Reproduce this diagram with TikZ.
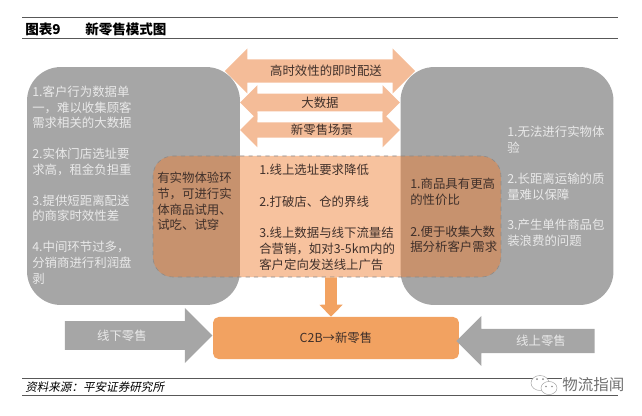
\documentclass[tikz,border=0pt]{standalone}
\usepackage{fontspec}
\setmainfont{Noto Sans CJK SC}
\newfontfamily\slantcjk[FakeSlant=0.2]{Noto Sans CJK SC}
\usetikzlibrary{shapes.arrows,arrows.meta}
\definecolor{peach}{HTML}{F4BC98}
\definecolor{overlap}{HTML}{ED7D31}
\definecolor{boxorange}{HTML}{F2A261}
\definecolor{panelgray}{HTML}{A6A6A6}
\definecolor{softwhite}{HTML}{E9E9E9}
\definecolor{inkdark}{HTML}{40302A}
\definecolor{rulegray}{HTML}{585858}
\tikzset{
	panel/.style={fill=panelgray, rounded corners=24pt, minimum width=151pt, minimum height=168.7pt, inner sep=0pt},
	bartext/.style={double arrow, double arrow tip angle=90, double arrow head indent=0pt, fill=peach, text=inkdark, inner xsep=0pt, font=\fontsize{8.8}{11.2}\selectfont},
	sidearrow/.style={single arrow, single arrow tip angle=90, single arrow head indent=0pt, fill=panelgray, text=softwhite, inner xsep=0pt, font=\fontsize{8.8}{11.2}\selectfont},
	greytext/.style={anchor=west, align=left, text=softwhite, inner sep=0pt, font=\fontsize{8.8}{11.2}\selectfont},
	darktext/.style={anchor=west, align=left, text=inkdark, inner sep=0pt, font=\fontsize{8.8}{11.2}\selectfont},
	rulethick/.style={draw=rulegray, line width=0.6pt}
}
\begin{document}
\begin{tikzpicture}[x=0.709pt,y=-0.709pt]
	\useasboundingbox (0,0) rectangle (642,415);

	% header and footer
	\draw [rulethick] (22,17) -- (618,17);
	\draw [rulethick] (22,38) -- (618,38);
	\draw [rulethick] (22,378) -- (618,378);
	\draw [rulethick] (22,395) -- (618,395);
	\node (figno) [anchor=west, inner sep=0pt, font=\fontsize{9.6}{11}\selectfont\bfseries] at (25,29) {图表9};
	\node (figtitle) [anchor=west, inner sep=0pt, font=\fontsize{9.6}{11}\selectfont\bfseries] at (85,29) {新零售模式图};
	\node (source) [anchor=west, inner sep=0pt, font=\fontsize{8.2}{10}\slantcjk] at (25,387) {资料来源：平安证券研究所};

	% three bars behind the panels
	\node (delivery) [bartext, inner ysep=3.2pt, minimum height=135pt, minimum width=32pt, double arrow head extend=7pt] at (320,71) {\hspace{8.5pt}高时效性的即时配送};
	\node (bigdata) [bartext, inner ysep=1pt, minimum height=113.4pt, minimum width=24.5pt, double arrow head extend=5pt] at (320,102.5) {大数据};
	\node (scene) [bartext, inner ysep=0pt, minimum height=113.4pt, minimum width=24.5pt, double arrow head extend=5.5pt] at (320,130) {\hspace{2.8pt}新零售场景};

	% panels
	\node (offline) [panel] at (133.5,186) {};
	\node (online) [panel] at (507,186) {};
	\node (shared) [fill=overlap, fill opacity=0.47, draw=rulegray!70, line width=0.4pt, dashed, rounded corners=14pt, minimum width=246.7pt, minimum height=85.8pt, inner sep=0pt] at (327,216.5) {};

	% panel texts
	\node (offlinetext) [greytext] at (32,185) {1.客户行为数据单\\一，难以收集顾客\\需求相关的大数据\\[10.6pt]2.实体门店选址要\\求高，租金负担重\\[10.6pt]3.提供短距离配送\\的商家时效性差\\[10.6pt]4.中间环节过多，\\分销商进行利润盘\\剥};
	\node (onlinetext) [greytext] at (507,186.5) {1.无法进行实物体\\验\\[10.6pt]2.长距离运输的质\\量难以保障\\[10.6pt]3.产生单件商品包\\装浪费的问题};
	\node (lefttext) [darktext] at (157,201.5) {有实物体验环\\节，可进行实\\体商品试用、\\试吃、试穿};
	\node (midtext) [darktext] at (259,217.5) {1.线上选址要求降低\\[11.2pt]2.打破店、仓的界线\\[11.2pt]3.线上数据与线下流量结\\合营销，如对3-5km内的\\客户定向发送线上广告};
	\node (righttext) [darktext] at (410,215.5) {1.商品具有更高\\的性价比\\[11.2pt]2.便于收集大数\\据分析客户需求};

	% bottom row
	\node (c2b) [fill=boxorange, text=inkdark, rounded corners=4pt, minimum width=174.4pt, minimum height=29.8pt, inner sep=0pt, font=\fontsize{8.8}{11.2}\selectfont] at (336,338) {C2B→新零售};
	\node (offarrow) [sidearrow, inner ysep=5pt, minimum height=104.5pt, minimum width=39pt, single arrow head extend=8.5pt] at (131.5,335.5) {线下零售\hspace{13.5pt}\null};
	\node (onarrow) [sidearrow, inner ysep=3.3pt, shape border rotate=180, minimum height=98pt, minimum width=35.5pt, single arrow head extend=8pt] at (531.5,341) {\hspace{13.5pt}线上零售};

	\draw [boxorange, line width=8.3pt, -{Triangle[length=8.5pt, width=16pt]}] ([xshift=2.8pt]shared.south) -- ([xshift=-3.5pt]c2b.north);

	% watermark
	\node (mark) [anchor=west, inner sep=0pt, fill=white, text=rulegray!85, font=\fontsize{11}{13}\selectfont] at (562,385) {物流指闻};
	\draw [fill=white, draw=rulegray!60, line width=0.3pt] (540,383) ellipse (9 and 7.5);
	\draw [fill=white, draw=rulegray!60, line width=0.3pt] (549,388) ellipse (8 and 6.5);
	\fill [rulegray!70] (546,386.5) circle (0.9) (552,386.5) circle (0.9) (537,379) circle (1) (543,379) circle (1);
\end{tikzpicture}
\end{document}
